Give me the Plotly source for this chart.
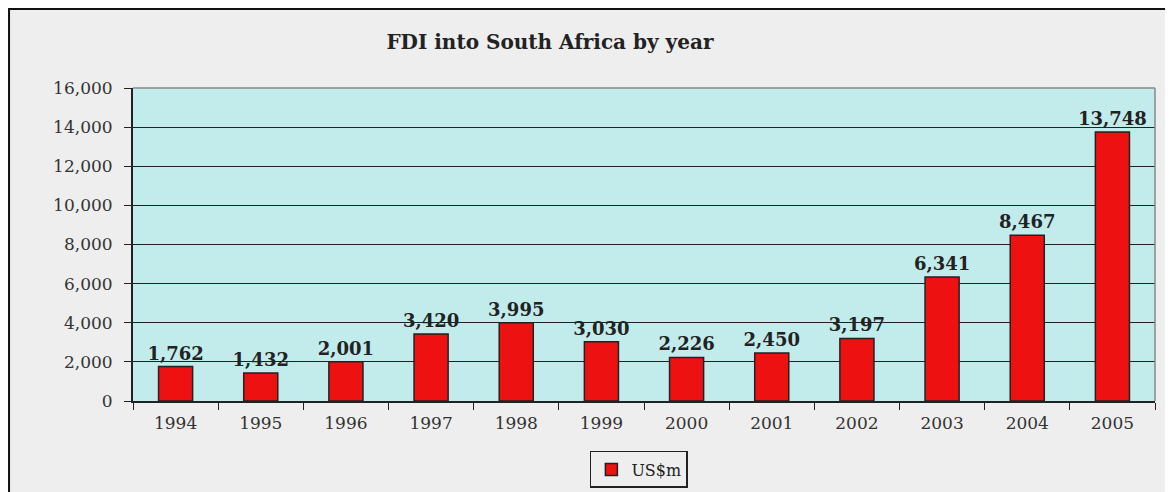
import plotly.graph_objects as go

years = ["1994", "1995", "1996", "1997", "1998", "1999", "2000", "2001", "2002", "2003", "2004", "2005"]
fdi_usd_m = [1762, 1432, 2001, 3420, 3995, 3030, 2226, 2450, 3197, 6341, 8467, 13748]
y_ticks = [0, 2000, 4000, 6000, 8000, 10000, 12000, 14000, 16000]

font_family = "DejaVu Serif, Liberation Serif, serif"

fig = go.Figure()
fig.add_trace(go.Bar(
    x=years, y=fdi_usd_m, name="US$m",
    marker=dict(color="#EE1111", line=dict(color="#222222", width=1.5)),
    width=0.4,
    text=[f"{v:,}" for v in fdi_usd_m],
    textposition="outside",
    constraintext="none",
    textfont=dict(family=font_family, size=18, color="#222222", weight="bold"),
    cliponaxis=False,
))

fig.update_layout(
    width=1173, height=492,
    margin=dict(l=125, r=26, t=80, b=99, autoexpand=False),
    paper_bgcolor="#EEEEEE",
    plot_bgcolor="#C2ECEC",
    font=dict(family=font_family, size=17, color="#333333"),
    title=dict(text="<b>FDI into South Africa by year</b>", x=0.462, xanchor="center",
               y=0.931, yanchor="middle", font=dict(family=font_family, size=20, color="#222222")),
    showlegend=True,
    legend=dict(orientation="h", x=0.495, xanchor="center", yref="container", y=0.062, yanchor="middle",
                bgcolor="#EEEEEE", bordercolor="#222222", borderwidth=1.5,
                font=dict(family=font_family, size=16, color="#222222")),
    bargap=0.6,
)
fig.update_xaxes(
    type="category", tickson="boundaries", ticks="outside", ticklen=7, tickcolor="#222222",
    showline=True, linecolor="#222222", linewidth=2, showgrid=False, automargin=False,
    ticklabelstandoff=6,
    tickfont=dict(family=font_family, size=17, color="#333333"),
)
fig.update_yaxes(
    range=[0, 16000], tickvals=y_ticks, ticktext=[f"{v:,}" for v in y_ticks],
    ticks="outside", ticklen=7, tickcolor="#222222", automargin=False,
    ticklabelstandoff=8,
    showline=True, linecolor="#222222", linewidth=2,
    showgrid=True, gridcolor="#222222", gridwidth=1.2, zeroline=False,
    tickfont=dict(family=font_family, size=17, color="#333333"),
)
# grey border top and right of plot area
fig.add_shape(type="line", xref="paper", yref="paper", x0=0, x1=1, y0=1, y1=1,
              line=dict(color="#888888", width=1.5))
fig.add_shape(type="line", xref="paper", yref="paper", x0=1, x1=1, y0=0, y1=1,
              line=dict(color="#888888", width=1.5))
# outer black frame (cropped at right and bottom)
fig.add_shape(type="rect", xref="paper", yref="paper",
              x0=-0.1213, x1=1.06, y0=-0.40, y1=1.2524,
              line=dict(color="#111111", width=2), layer="above")

fig.write_html("out.html")
